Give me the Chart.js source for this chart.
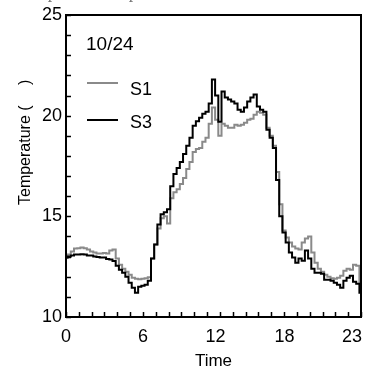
<!DOCTYPE html>
<html>
<head>
<meta charset="utf-8">
<script src="https://cdn.jsdelivr.net/npm/chart.js@4/dist/chart.umd.min.js"></script>
<style>
  html, body { margin: 0; padding: 0; background: #fff; }
  canvas { display: block; }
</style>
</head>
<body>
<canvas id="myChart" width="366" height="372"></canvas>
<script>
// Readings every 15 minutes (hour of day)
const hours = [
  0, 0.25, 0.5, 0.75, 1, 1.25, 1.5, 1.75, 2, 2.25, 2.5, 2.75,
  3, 3.25, 3.5, 3.75, 4, 4.25, 4.5, 4.75, 5, 5.25, 5.5, 5.75,
  6, 6.25, 6.5, 6.75, 7, 7.25, 7.5, 7.75, 8, 8.25, 8.5, 8.75,
  9, 9.25, 9.5, 9.75, 10, 10.25, 10.5, 10.75, 11, 11.25, 11.5, 11.75,
  12, 12.25, 12.5, 12.75, 13, 13.25, 13.5, 13.75, 14, 14.25, 14.5, 14.75,
  15, 15.25, 15.5, 15.75, 16, 16.25, 16.5, 16.75, 17, 17.25, 17.5, 17.75,
  18, 18.25, 18.5, 18.75, 19, 19.25, 19.5, 19.75, 20, 20.25, 20.5, 20.75,
  21, 21.25, 21.5, 21.75, 22, 22.25, 22.5, 22.75, 23
];

const s1Temps = [
  12.95, 13.1, 13.25, 13.4, 13.42, 13.45, 13.42, 13.35, 13.25, 13.2, 13.15, 13.15,
  13.18, 13.15, 13.3, 13.35, 12.9, 12.6, 12.4, 12.25, 12.1, 11.95, 11.9, 11.88,
  11.9, 11.92, 11.97, 12.9, 13.6, 14.4, 14.9, 15.0, 14.65, 15.9, 16.2, 16.35,
  16.6, 16.9, 17.35, 17.7, 18.2, 18.35, 18.4, 18.7, 18.9, 19.6, 20.4, 19.8,
  19.0, 19.6, 19.5, 19.4, 19.4, 19.55, 19.5, 19.55, 19.65, 19.8, 19.85, 20.05,
  20.2, 20.15, 20.05, 19.4, 19.0, 18.5, 17.2, 15.6, 14.3, 13.95, 13.7, 13.5,
  13.4, 13.35, 13.7, 13.9, 14.0, 13.2, 12.7, 12.4, 12.25, 12.1, 12.0, 11.93,
  11.9, 11.95, 12.05, 12.3, 12.4, 12.35, 12.6, 12.55, 11.7
];

const s3Temps = [
  12.95, 13.0, 13.05, 13.1, 13.1, 13.12, 13.1, 13.05, 13.05, 13.0, 12.98, 12.95,
  12.95, 12.88, 12.85, 12.78, 12.55, 12.35, 12.2, 12.0, 11.7, 11.45, 11.2, 11.5,
  11.55, 11.6, 11.8, 12.9, 13.6, 14.6, 15.1, 15.2, 15.35, 16.5, 17.1, 17.4,
  17.7, 18.1, 18.5, 18.9, 19.5, 19.72, 19.9, 20.1, 20.2, 20.6, 21.8, 21.0,
  19.7, 21.2, 20.9, 20.8, 20.7, 20.6, 20.3, 20.2, 20.4, 20.7, 20.9, 21.05,
  20.45, 20.3, 20.2, 19.3, 18.9, 18.4, 16.8, 15.0, 14.2, 13.7, 13.2, 12.95,
  12.7, 12.9, 12.8, 13.3, 12.9, 12.4, 12.2, 12.2, 12.15, 11.85, 11.85, 11.8,
  11.7, 11.6, 11.45, 11.8, 11.95, 12.05, 11.75, 11.65, 11.2
];

// x tick labels and where they sit on the hour axis
const timeLabels = ['0', '6', '12', '18', '23'];
const timeLabelAt = [0, 6, 11.65, 17.04, 22.3];

const dateLabel = '10/24';
const FONT = "'Liberation Sans', Arial, sans-serif";

function toPoints(ys) {
  return hours.map((h, i) => ({ x: h, y: ys[i] }));
}

// Box frame, inward tick marks, legend and labels
const decorations = {
  id: 'decorations',
  afterDraw(chart) {
    const { ctx, chartArea: a, scales: { x, y } } = chart;
    ctx.save();

    // inward tick marks every hour / every degree
    ctx.strokeStyle = '#000';
    ctx.lineWidth = 1.5;
    ctx.beginPath();
    for (let h = Math.ceil(x.min); h <= x.max; h++) {
      const px = Math.round(x.getPixelForValue(h)) + 0.5;
      ctx.moveTo(px, a.bottom);
      ctx.lineTo(px, a.bottom - 5);
    }
    for (let t = Math.ceil(y.min); t <= y.max; t++) {
      const py = Math.round(y.getPixelForValue(t)) + 0.5;
      ctx.moveTo(a.left, py);
      ctx.lineTo(a.left + 5, py);
    }
    ctx.stroke();

    ctx.lineWidth = 2;
    ctx.strokeRect(a.left, a.top, a.right - a.left, a.bottom - a.top);

    // date and legend inside the plot
    ctx.fillStyle = '#000';
    ctx.textAlign = 'left';
    ctx.textBaseline = 'alphabetic';
    ctx.font = '19px ' + FONT;
    ctx.fillText(dateLabel, a.left + 20, a.top + 35);

    ctx.font = '18px ' + FONT;
    const rows = [
      { ds: chart.data.datasets[0], lineY: a.top + 68, textY: a.top + 80 },
      { ds: chart.data.datasets[1], lineY: a.top + 105, textY: a.top + 113 }
    ];
    rows.forEach(r => {
      ctx.strokeStyle = r.ds.borderColor;
      ctx.lineWidth = 2;
      ctx.beginPath();
      ctx.moveTo(a.left + 21, r.lineY);
      ctx.lineTo(a.left + 52, r.lineY);
      ctx.stroke();
      ctx.fillText(r.ds.label, a.left + 64, r.textY);
    });

    // y axis title
    ctx.save();
    ctx.translate(30, 205);
    ctx.rotate(-Math.PI / 2);
    ctx.font = '16px ' + FONT;
    ctx.fillText('Temperature (\u3000 )', 0, 0);
    ctx.restore();

    // caption cut off at the top edge
    ctx.fillStyle = '#777';
    ctx.font = "18px 'Liberation Serif', serif";
    ctx.fillText('Temperature at points', 16, -2);

    ctx.restore();
  }
};

new Chart(document.getElementById('myChart').getContext('2d'), {
  type: 'line',
  data: {
    datasets: [
      {
        label: 'S1',
        data: toPoints(s1Temps),
        borderColor: '#8a8a8a',
        borderWidth: 2,
        pointRadius: 0,
        stepped: 'middle',
        order: 1
      },
      {
        label: 'S3',
        data: toPoints(s3Temps),
        borderColor: '#000000',
        borderWidth: 2,
        pointRadius: 0,
        stepped: 'middle',
        order: 0
      }
    ]
  },
  options: {
    responsive: false,
    animation: false,
    layout: { padding: { top: 15, right: 5, left: 0, bottom: 0 } },
    plugins: {
      legend: { display: false },
      tooltip: { enabled: false }
    },
    scales: {
      x: {
        type: 'linear',
        min: 0,
        max: 23,
        afterBuildTicks: scale => {
          scale.ticks = timeLabelAt.map(v => ({ value: v }));
        },
        afterFit: scale => {
          scale.height = 55;
          scale.paddingLeft = 0;
          scale.paddingRight = 0;
        },
        ticks: {
          autoSkip: false,
          maxRotation: 0,
          padding: 9,
          color: '#000',
          font: { family: FONT, size: 18 },
          callback: (value, index) => timeLabels[index]
        },
        grid: { display: false, drawTicks: false },
        border: { display: false },
        title: {
          display: true,
          text: 'Time',
          color: '#000',
          font: { family: FONT, size: 17 },
          padding: { top: 0, bottom: 0 }
        }
      },
      y: {
        min: 10,
        max: 25,
        afterFit: scale => {
          scale.width = 66;
          scale.paddingTop = 0;
          scale.paddingBottom = 0;
        },
        ticks: {
          stepSize: 5,
          padding: 4,
          color: '#000',
          font: { family: FONT, size: 18 }
        },
        grid: { display: false, drawTicks: false },
        border: { display: false }
      }
    }
  },
  plugins: [decorations]
});
</script>
</body>
</html>
